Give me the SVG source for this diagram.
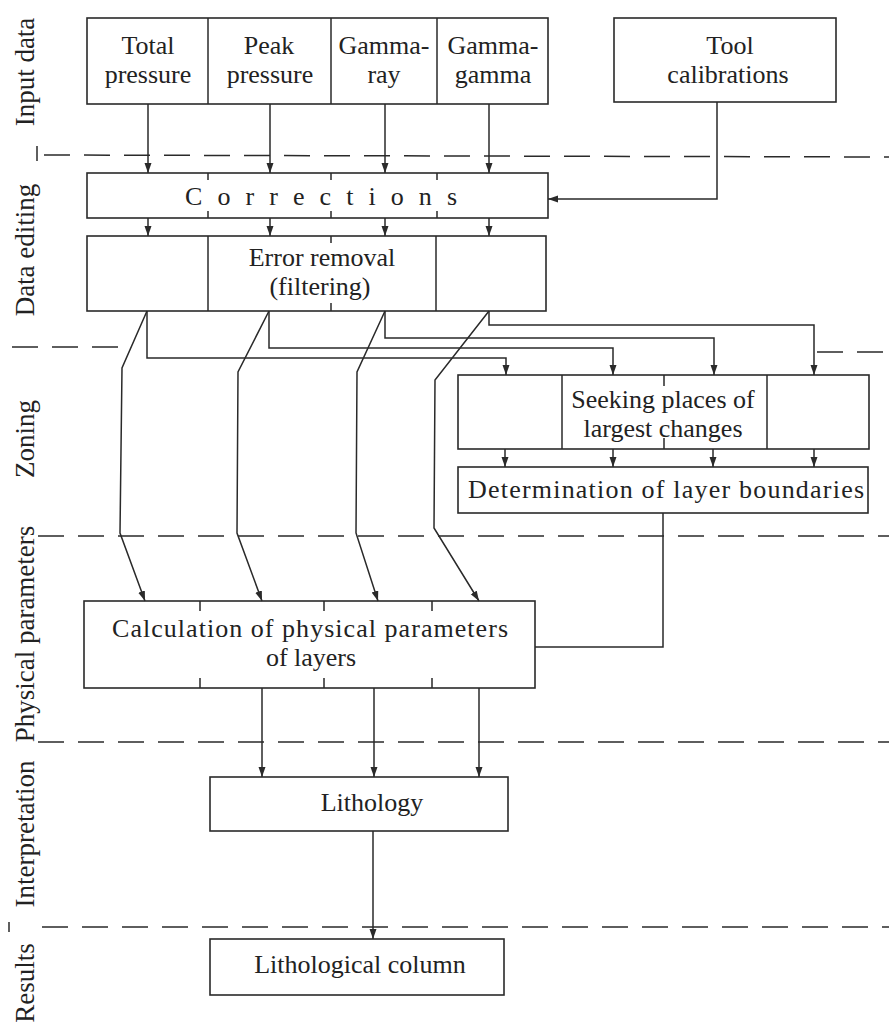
<svg xmlns="http://www.w3.org/2000/svg" width="889" height="1025" viewBox="0 0 889 1025">
<style>
.box{fill:none;stroke:#2a2a2a;stroke-width:1.6}
.ln{fill:none;stroke:#2a2a2a;stroke-width:1.5}
.dash{fill:none;stroke:#2a2a2a;stroke-width:1.5;stroke-dasharray:26 14}
.t{font-family:"Liberation Serif","Times New Roman",serif;font-size:26px;fill:#222;text-anchor:middle}
.lab{font-family:"Liberation Serif","Times New Roman",serif;font-size:27px;fill:#222;text-anchor:middle}
</style>
<defs>
<marker id="ah" markerUnits="userSpaceOnUse" markerWidth="11" markerHeight="8" refX="10" refY="3.5" orient="auto">
<path d="M0,0 L10,3.5 L0,7 z" fill="#2a2a2a"/>
</marker>
</defs>
<rect width="889" height="1025" fill="#ffffff"/>

<g id="section-labels">
<text class="lab" transform="translate(34,72) rotate(-90)">Input data</text>
<text class="lab" transform="translate(34,250) rotate(-90)">Data editing</text>
<text class="lab" transform="translate(34,439) rotate(-90)">Zoning</text>
<text class="lab" transform="translate(34,634) rotate(-90)">Physical parameters</text>
<text class="lab" transform="translate(34,834) rotate(-90)">Interpretation</text>
<text class="lab" transform="translate(34,983) rotate(-90)">Results</text>
</g>

<g id="separators">
<line class="dash" x1="44" y1="155" x2="889" y2="157"/>
<line class="ln" x1="37" y1="146" x2="37" y2="161"/>
<line class="dash" x1="12" y1="347" x2="131" y2="347"/>
<line class="dash" x1="817" y1="352" x2="889" y2="352"/>
<line class="dash" x1="38" y1="536" x2="889" y2="536"/>
<line class="dash" x1="38" y1="742" x2="889" y2="742"/>
<line class="dash" x1="42" y1="927" x2="889" y2="927"/>
<line class="ln" x1="9" y1="922" x2="9" y2="932"/>
</g>

<g id="node-input">
<rect class="box" x="87" y="18" width="461" height="86"/>
<line class="ln" x1="208" y1="18" x2="208" y2="104"/>
<line class="ln" x1="331" y1="18" x2="331" y2="104"/>
<line class="ln" x1="437" y1="18" x2="437" y2="104"/>
<text class="t" x="148" y="54">Total</text>
<text class="t" x="148" y="83">pressure</text>
<text class="t" x="269" y="54">Peak</text>
<text class="t" x="270" y="83">pressure</text>
<text class="t" x="384" y="54">Gamma-</text>
<text class="t" x="384" y="83">ray</text>
<text class="t" x="493" y="54">Gamma-</text>
<text class="t" x="493" y="83">gamma</text>
</g>

<g id="node-tool">
<rect class="box" x="614" y="18" width="222" height="84"/>
<text class="t" x="730" y="54">Tool</text>
<text class="t" x="728" y="83">calibrations</text>
</g>

<g id="node-corrections">
<rect class="box" x="87" y="173" width="461" height="45"/>
<path class="ln" d="M208,173v7M331,173v7M437,173v7M208,211v7M331,211v7M437,211v7"/>
<text class="t" x="185" y="205" style="text-anchor:start" textLength="272" lengthAdjust="spacing">Corrections</text>
</g>

<g id="node-error">
<rect class="box" x="87" y="236" width="459" height="75"/>
<line class="ln" x1="208" y1="236" x2="208" y2="311"/>
<line class="ln" x1="436" y1="236" x2="436" y2="311"/>
<path class="ln" d="M331,236v7M331,303v8"/>
<text class="t" x="322" y="266">Error removal</text>
<text class="t" x="320" y="295">(filtering)</text>
</g>

<g id="node-seeking">
<rect class="box" x="458" y="375" width="411" height="74"/>
<line class="ln" x1="562" y1="375" x2="562" y2="449"/>
<line class="ln" x1="767" y1="375" x2="767" y2="449"/>
<path class="ln" d="M664,375v11M664,438v11"/>
<text class="t" x="663" y="408">Seeking places of</text>
<text class="t" x="663" y="437">largest changes</text>
</g>

<g id="node-boundaries">
<rect class="box" x="458" y="467" width="410" height="46"/>
<text class="t" x="666" y="498" textLength="396" lengthAdjust="spacing">Determination of layer boundaries</text>
</g>

<g id="node-calculation">
<rect class="box" x="84" y="601" width="451" height="87"/>
<path class="ln" d="M200,601v10M324,601v10M432,601v10M200,678v10M324,678v10M432,678v10"/>
<text class="t" x="310" y="637" textLength="396" lengthAdjust="spacing">Calculation of physical parameters</text>
<text class="t" x="311" y="666">of layers</text>
</g>

<g id="node-lithology">
<rect class="box" x="210" y="777" width="298" height="54"/>
<text class="t" x="372" y="811">Lithology</text>
</g>

<g id="node-column">
<rect class="box" x="210" y="939" width="294" height="56"/>
<text class="t" x="360" y="973">Lithological column</text>
</g>

<g id="connectors">
<line class="ln" x1="148" y1="104" x2="148" y2="173" marker-end="url(#ah)"/>
<line class="ln" x1="270" y1="104" x2="270" y2="173" marker-end="url(#ah)"/>
<line class="ln" x1="385" y1="104" x2="385" y2="173" marker-end="url(#ah)"/>
<line class="ln" x1="489" y1="104" x2="489" y2="173" marker-end="url(#ah)"/>
<polyline class="ln" points="717,102 717,199 548,199" marker-end="url(#ah)"/>
<line class="ln" x1="148" y1="218" x2="148" y2="236" marker-end="url(#ah)"/>
<line class="ln" x1="270" y1="218" x2="270" y2="236" marker-end="url(#ah)"/>
<line class="ln" x1="385" y1="218" x2="385" y2="236" marker-end="url(#ah)"/>
<line class="ln" x1="489" y1="218" x2="489" y2="236" marker-end="url(#ah)"/>

<polyline class="ln" points="147,311 147,358 506,358 506,375" marker-end="url(#ah)"/>
<polyline class="ln" points="269,311 269,348 613,348 613,375" marker-end="url(#ah)"/>
<polyline class="ln" points="385,311 385,338 714,338 714,375" marker-end="url(#ah)"/>
<polyline class="ln" points="489,311 489,325 814,325 814,375" marker-end="url(#ah)"/>

<polyline class="ln" points="147,311 122,368 120,533 145,601" marker-end="url(#ah)"/>
<polyline class="ln" points="269,311 238,372 237,533 262,601" marker-end="url(#ah)"/>
<polyline class="ln" points="385,311 357,372 356,533 378,601" marker-end="url(#ah)"/>
<polyline class="ln" points="489,311 435,380 434,528 479,601" marker-end="url(#ah)"/>

<line class="ln" x1="505" y1="449" x2="505" y2="467" marker-end="url(#ah)"/>
<line class="ln" x1="613" y1="449" x2="613" y2="467" marker-end="url(#ah)"/>
<line class="ln" x1="713" y1="449" x2="713" y2="467" marker-end="url(#ah)"/>
<line class="ln" x1="814" y1="449" x2="814" y2="467" marker-end="url(#ah)"/>

<polyline class="ln" points="663,513 663,647 535,647"/>

<line class="ln" x1="262" y1="688" x2="262" y2="777" marker-end="url(#ah)"/>
<line class="ln" x1="374" y1="688" x2="374" y2="777" marker-end="url(#ah)"/>
<line class="ln" x1="479" y1="688" x2="479" y2="777" marker-end="url(#ah)"/>
<line class="ln" x1="373" y1="831" x2="373" y2="939" marker-end="url(#ah)"/>
</g>
</svg>
